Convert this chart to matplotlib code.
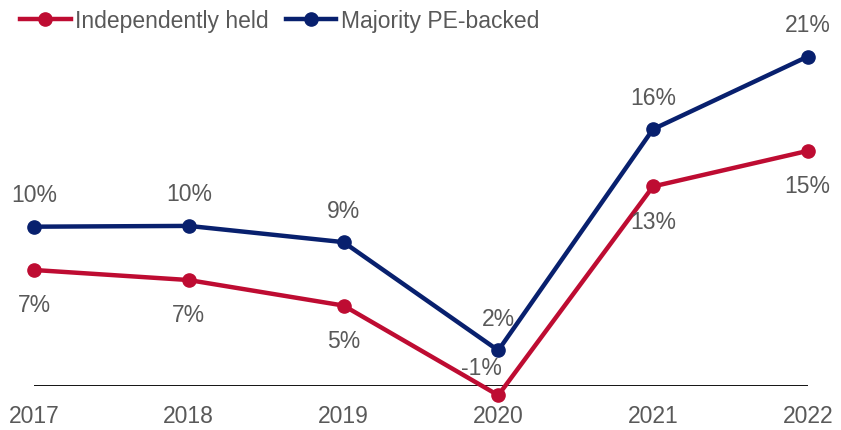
import matplotlib.pyplot as plt

plt.rcParams['font.family'] = ['Liberation Sans', 'DejaVu Sans']

years = ["2017", "2018", "2019", "2020", "2021", "2022"]
independent = [7.5, 6.85, 5.2, -0.6, 12.9, 15.2]
pe_backed = [10.3, 10.35, 9.3, 2.3, 16.6, 21.3]
independent_labels = ["7%", "7%", "5%", "-1%", "13%", "15%"]
pe_labels = ["10%", "10%", "9%", "2%", "16%", "21%"]

RED = "#BE0C32"
NAVY = "#08206E"
GREY = "#595959"
FS = 16.5

fig = plt.figure(figsize=(8.41, 4.31), dpi=100)
ax = fig.add_axes([0, 44 / 431, 1, 387 / 431])

x = list(range(len(years)))
ax.plot(x, independent, color=RED, lw=3.2, marker="o", ms=9.5,
        label="Independently held", clip_on=False, zorder=3)
ax.plot(x, pe_backed, color=NAVY, lw=3.2, marker="o", ms=9.5,
        label="Majority PE-backed", clip_on=False, zorder=3)

ax.hlines(0, x[0], x[-1], color="black", lw=1.3, zorder=2)

# data labels: PE above, independent below (2020 red label sits above-left)
for i, (v, t) in enumerate(zip(pe_backed, pe_labels)):
    ax.annotate(t, (i, v), xytext=(0, 23), textcoords="offset points",
                ha="center", va="center", fontsize=FS, color=GREY,
                annotation_clip=False)
for i, (v, t) in enumerate(zip(independent, independent_labels)):
    off = (-12, 20) if i == 3 else (0, -25)
    ax.annotate(t, (i, v), xytext=off, textcoords="offset points",
                ha="center", va="center", fontsize=FS, color=GREY,
                annotation_clip=False)

ax.set_xlim(-0.22, 5.215)
ax.set_ylim(0, 25.02)
ax.set_xticks(x)
ax.set_xticklabels(years, fontsize=FS, color=GREY)
ax.tick_params(axis="x", length=0, pad=13)
ax.set_yticks([])
for s in ax.spines.values():
    s.set_visible(False)

ax.legend(loc="upper left", bbox_to_anchor=(0.024, 0.974), ncol=2, frameon=False,
          fontsize=FS, labelcolor=GREY, handlelength=2.2, handletextpad=0.2,
          columnspacing=0.75, borderaxespad=0.0, borderpad=0.0)

fig.savefig("out.png", dpi=100)
